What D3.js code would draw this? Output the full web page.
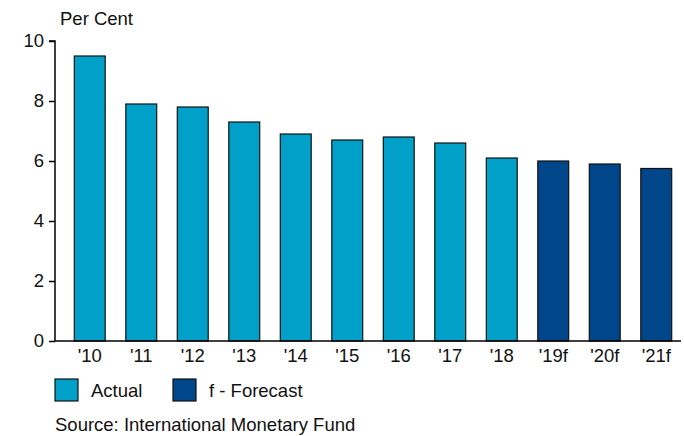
<!DOCTYPE html>
<html>
<head>
<meta charset="utf-8">
<script src="https://cdn.jsdelivr.net/npm/d3@7"></script>
<style>
  body { margin: 0; background: #fff; }
  text { font-family: "Liberation Sans", Arial, sans-serif; fill: #111; }
</style>
</head>
<body>
<div id="chart"></div>
<script>
var years = ["'10", "'11", "'12", "'13", "'14", "'15", "'16", "'17", "'18", "'19f", "'20f", "'21f"];
var values = [9.5, 7.9, 7.8, 7.3, 6.9, 6.7, 6.8, 6.6, 6.1, 6.0, 5.9, 5.75];
var forecast = [false, false, false, false, false, false, false, false, false, true, true, true];
var yTicks = [0, 2, 4, 6, 8, 10];
var legendItems = ["Actual", "f - Forecast"];

var width = 684, height = 436;
var colActual = "#00a0c8", colForecast = "#00468a";
var fontSize = 18.5;

var svg = d3.select("#chart").append("svg")
  .attr("width", width)
  .attr("height", height);

var x = d3.scaleBand()
  .domain(years)
  .range([64, 682])
  .paddingInner(0.4)
  .paddingOuter(0.2);

var y = d3.scaleLinear()
  .domain([0, 10])
  .range([341, 41]);

// y axis
var yAxis = d3.axisLeft(y).tickValues(yTicks).tickSize(6).tickPadding(5);
var gy = svg.append("g").attr("transform", "translate(55,0)").call(yAxis);
gy.select(".domain").attr("stroke", "#000").attr("stroke-width", 1.5).attr("d", "M-6," + y(10) + "H0V" + y(0));
gy.selectAll(".tick line").attr("stroke", "#000").attr("stroke-width", 1.5);
gy.selectAll(".tick text").attr("font-size", fontSize).attr("fill", "#111").style("font-family", "Liberation Sans, Arial, sans-serif");

// bars
svg.selectAll(".bar").data(years).enter()
  .append("rect")
  .attr("x", function (d) { return x(d); })
  .attr("y", function (d, i) { return y(values[i]); })
  .attr("width", x.bandwidth())
  .attr("height", function (d, i) { return y(0) - y(values[i]); })
  .attr("fill", function (d, i) { return forecast[i] ? colForecast : colActual; })
  .attr("stroke", "#111")
  .attr("stroke-width", 1.2);

// x axis
var xAxis = d3.axisBottom(x).tickSize(0).tickPadding(8);
var gx = svg.append("g").attr("transform", "translate(0," + y(0) + ")").call(xAxis);
gx.select(".domain").attr("stroke", "#000").attr("stroke-width", 1.5).attr("d", "M55,0H681");
gx.selectAll(".tick text").attr("font-size", fontSize).attr("fill", "#111").style("font-family", "Liberation Sans, Arial, sans-serif");

// unit label
svg.append("text").attr("x", 60).attr("y", 25).attr("font-size", fontSize).text("Per Cent");

// legend
var legend = svg.selectAll(".legend").data(legendItems).enter()
  .append("g")
  .attr("transform", function (d, i) { return "translate(" + (i === 0 ? 55 : 173) + ",379)"; });
legend.append("rect")
  .attr("width", 23).attr("height", 22)
  .attr("fill", function (d, i) { return i === 0 ? colActual : colForecast; })
  .attr("stroke", "#111").attr("stroke-width", 1.2);
legend.append("text")
  .attr("x", 36).attr("y", 18)
  .attr("font-size", fontSize)
  .text(function (d) { return d; });

// source
svg.append("text").attr("x", 55).attr("y", 431).attr("font-size", fontSize).text("Source: International Monetary Fund");
</script>
</body>
</html>
